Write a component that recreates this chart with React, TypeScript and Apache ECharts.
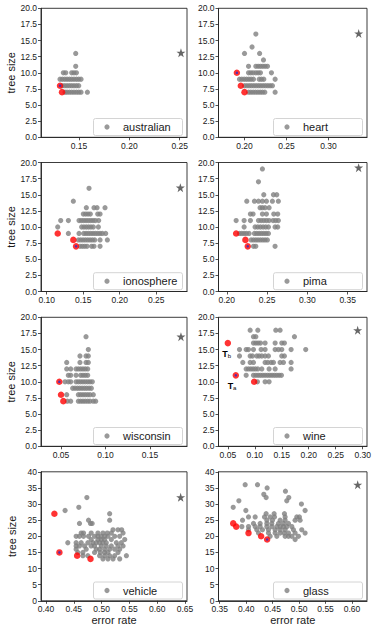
import React, { useEffect, useRef } from "react";
import * as echarts from "echarts";

type Rows = [number, number[]][];
type Pt = [number, number];

// ---------- data (error rate, tree size) ----------
const australianGray: Rows = [
  [13, [0.1467]],
  [11, [0.1467]],
  [10, [0.1344, 0.1368, 0.1427, 0.145, 0.1474]],
  [9, [0.1311, 0.1334, 0.1358, 0.1381, 0.1404, 0.1427, 0.145, 0.1474, 0.1497, 0.152]],
  [8, [0.1334, 0.1358, 0.1381, 0.1404, 0.1427, 0.145, 0.1474, 0.1497]],
  [7, [0.1361, 0.1381, 0.1404, 0.1427, 0.145, 0.1474, 0.1497, 0.152, 0.1583]],
];
const australianRed: Pt[] = [[0.1311, 8], [0.1331, 7]];
const australianBest: Pt[] = [[0.1311, 8]];
const australianStar: Pt[] = [[0.2513, 13.1]];
const australianXRange = [0.1122, 0.2573];
const australianXTicks = [0.15, 0.2, 0.25];

const heartGray: Rows = [
  [16, [0.2135]],
  [14, [0.209]],
  [13, [0.2, 0.218]],
  [12, [0.2226]],
  [11, [0.2048, 0.2135, 0.2163, 0.219, 0.2218, 0.2246, 0.2274]],
  [10, [0.2048, 0.2075, 0.2103, 0.2135, 0.2163, 0.219, 0.2321]],
  [9, [0.194, 0.1968, 0.1996, 0.2024, 0.2052, 0.2079, 0.2107, 0.2175, 0.2202, 0.223, 0.2365]],
  [8, [0.2, 0.2028, 0.2056, 0.2083, 0.2111, 0.2139, 0.2167, 0.2194, 0.2222, 0.225, 0.2278, 0.2306, 0.2333]],
  [7, [0.2048, 0.2075, 0.2103, 0.2131, 0.2159, 0.2187, 0.2214, 0.2242, 0.2365]],
];
const heartRed: Pt[] = [[0.1909, 10], [0.1956, 8], [0.2, 7]];
const heartBest: Pt[] = [[0.1909, 10]];
const heartStar: Pt[] = [[0.3361, 16.1]];
const heartXRange = [0.169, 0.346];
const heartXTicks = [0.2, 0.25, 0.3];

const ionosphereGray: Rows = [
  [16, [0.158]],
  [14, [0.1365]],
  [13, [0.1543, 0.1648, 0.169, 0.1799]],
  [12, [0.1502, 0.1534, 0.1566, 0.1598, 0.1699, 0.1731]],
  [11, [0.1192, 0.1297, 0.1443, 0.1475, 0.1507, 0.1539, 0.1571, 0.1603, 0.1635, 0.1667, 0.1712]],
  [10, [0.1151, 0.1479, 0.1511, 0.1543, 0.1575, 0.1607, 0.1639, 0.1708]],
  [9, [0.1297, 0.1443, 0.1507, 0.1539, 0.1571, 0.1603, 0.1635, 0.1667, 0.1699, 0.1731, 0.1763, 0.1808]],
  [8, [0.1434, 0.1466, 0.1498, 0.153, 0.1562, 0.1594, 0.1626, 0.1658, 0.1731, 0.1831]],
  [7, [0.1457, 0.1489, 0.1521, 0.1553, 0.1616, 0.1648, 0.1731]],
];
const ionosphereRed: Pt[] = [[0.1151, 9], [0.1365, 8], [0.1402, 7]];
const ionosphereBest: Pt[] = [[0.1402, 7]];
const ionosphereStar: Pt[] = [[0.2831, 16.1]];
const ionosphereXRange = [0.0922, 0.2922];
const ionosphereXTicks = [0.1, 0.15, 0.2, 0.25];

const pimaGray: Rows = [
  [19, [0.2442]],
  [17, [0.2393]],
  [15, [0.2459, 0.2579, 0.262]],
  [14, [0.2248, 0.2343, 0.2393, 0.2442, 0.2492, 0.2566, 0.264]],
  [13, [0.2413, 0.2442, 0.2475, 0.2525]],
  [12, [0.2293, 0.2326, 0.2442, 0.2492, 0.2583, 0.2632]],
  [11, [0.2116, 0.2215, 0.2293, 0.2393, 0.2426, 0.2459, 0.2492, 0.2525, 0.2574, 0.2607, 0.264]],
  [10, [0.2215, 0.2351, 0.2384, 0.2417, 0.245, 0.2483, 0.2517, 0.2599, 0.2632]],
  [9, [0.2157, 0.2186, 0.2215, 0.2244, 0.2277, 0.2343, 0.2372, 0.2401, 0.243, 0.2459, 0.2488, 0.2517]],
  [8, [0.2302, 0.2331, 0.236, 0.2388, 0.2417, 0.2446, 0.2475, 0.2504]],
  [7, [0.2331, 0.236, 0.2599]],
];
const pimaRed: Pt[] = [[0.2116, 9], [0.2231, 8], [0.226, 7]];
const pimaBest: Pt[] = [[0.226, 7]];
const pimaStar: Pt[] = [[0.3636, 19.2]];
const pimaXRange = [0.1897, 0.374];
const pimaXTicks = [0.2, 0.25, 0.3, 0.35];

const wisconsinGray: Rows = [
  [17, [0.0781]],
  [15, [0.0807]],
  [14, [0.0713, 0.0781, 0.0807]],
  [13, [0.0564, 0.0713, 0.0781, 0.0807]],
  [12, [0.0564, 0.0609, 0.0669, 0.0695, 0.0721, 0.0747, 0.0773, 0.08]],
  [11, [0.0582, 0.0609, 0.0669, 0.0721, 0.0747, 0.0773, 0.08]],
  [10, [0.0545, 0.0582, 0.0609, 0.0669, 0.0695, 0.0721, 0.0747, 0.0773, 0.08, 0.0826, 0.0852]],
  [9, [0.0631, 0.0657, 0.0684, 0.071, 0.0736, 0.0762, 0.0788, 0.0815, 0.0841]],
  [8, [0.0564, 0.0695, 0.0721, 0.0747, 0.0773, 0.08, 0.0826, 0.0863]],
  [7, [0.0571, 0.0609, 0.0695, 0.0721, 0.0747, 0.0773, 0.08, 0.0826, 0.0863, 0.089]],
];
const wisconsinRed: Pt[] = [[0.0481, 10], [0.05, 8], [0.0526, 7]];
const wisconsinBest: Pt[] = [[0.0481, 10]];
const wisconsinStar: Pt[] = [[0.1848, 17]];
const wisconsinXRange = [0.0275, 0.1916];
const wisconsinXTicks = [0.05, 0.1, 0.15];

const wineGray: Rows = [
  [18, [0.0914, 0.1056, 0.1389, 0.1469]],
  [17, [0.0975, 0.1019, 0.1735]],
  [16, [0.0975, 0.1019, 0.1062, 0.1105, 0.1191, 0.1377, 0.15, 0.1549]],
  [15, [0.0716, 0.084, 0.0883, 0.0975, 0.1117, 0.1191, 0.1377, 0.1438, 0.15, 0.1673, 0.1944]],
  [14, [0.0716, 0.0914, 0.0957, 0.1037, 0.108, 0.113, 0.1191, 0.1253, 0.15, 0.1549]],
  [13, [0.0778, 0.0914, 0.0975, 0.1191, 0.1241, 0.1302, 0.1346, 0.1469, 0.1531, 0.1673]],
  [12, [0.084, 0.0883, 0.0926, 0.0969, 0.1012, 0.1056, 0.113, 0.1265, 0.1377, 0.1673]],
  [11, [0.084, 0.0975, 0.1019, 0.1062, 0.1105, 0.1148, 0.1191, 0.1235, 0.1278, 0.1321, 0.1364, 0.1407, 0.1451, 0.1494]],
  [10, [0.1049, 0.1191, 0.1265]],
];
const wineRed: Pt[] = [[0.05, 16], [0.0648, 11], [0.0988, 10]];
const wineBest: Pt[] = [[0.0648, 11]];
const wineStar: Pt[] = [[0.2907, 18]];
const wineXRange = [0.0327, 0.308];
const wineXTicks = [0.05, 0.1, 0.15, 0.2, 0.25, 0.3];
const wineAnnotations: [number, number, string][] = [
  [0.048, 14.4, "b"],
  [0.0578, 9.5, "a"],
];

const vehicleGray: Rows = [
  [32, [0.4735]],
  [29, [0.459]],
  [28, [0.4343]],
  [27, [0.5145]],
  [25, [0.4765, 0.5145]],
  [24, [0.4602, 0.48, 0.483]],
  [22, [0.5205, 0.5295, 0.5361]],
  [21, [0.4633, 0.4675, 0.4813, 0.4934, 0.5024, 0.5102, 0.5175, 0.5386]],
  [20, [0.4542, 0.4602, 0.4675, 0.4765, 0.4873, 0.4934, 0.4994, 0.5054, 0.5114, 0.5235, 0.5325]],
  [19, [0.4813, 0.4934, 0.4994, 0.5054, 0.5175, 0.5416]],
  [18, [0.4392, 0.4542, 0.4633, 0.4753, 0.4843, 0.4904, 0.4964, 0.5024, 0.5084, 0.5265, 0.5355]],
  [17, [0.4542, 0.4602, 0.4693, 0.4813, 0.4873, 0.4994, 0.5084, 0.5175, 0.5295, 0.5386]],
  [16, [0.4542, 0.4723, 0.4904, 0.4964, 0.5054, 0.5145, 0.5235, 0.5325]],
  [15, [0.4572, 0.4663, 0.4873, 0.4976, 0.5054, 0.5114, 0.5295]],
  [14, [0.4663, 0.4753, 0.4964, 0.5054, 0.5145, 0.5235, 0.5446]],
  [13, [0.5024, 0.5114, 0.5205, 0.5325]],
];
const vehicleRed: Pt[] = [[0.4151, 27], [0.4241, 15], [0.456, 14], [0.48, 13]];
const vehicleBest: Pt[] = [[0.4241, 15]];
const vehicleStar: Pt[] = [[0.6422, 32.1]];
const vehicleXRange = [0.391, 0.6536];
const vehicleXTicks = [0.4, 0.45, 0.5, 0.55, 0.6, 0.65];

const glassGray: Rows = [
  [36, [0.3981, 0.4214]],
  [35, [0.4396]],
  [34, [0.4742]],
  [33, [0.4333]],
  [32, [0.4377, 0.4805]],
  [31, [0.3862, 0.4767]],
  [30, [0.5044]],
  [29, [0.3755]],
  [28, [0.3994, 0.5113]],
  [27, [0.4377, 0.4528, 0.4723]],
  [26, [0.4044, 0.417, 0.4346, 0.4453, 0.4535, 0.4736, 0.4956, 0.5006]],
  [25, [0.3931, 0.439, 0.4497, 0.4642, 0.4736, 0.4925, 0.5019]],
  [24, [0.4138, 0.4264, 0.439, 0.4484, 0.461, 0.4704, 0.4799]],
  [23, [0.3918, 0.4044, 0.417, 0.4264, 0.439, 0.4484, 0.4579, 0.4642, 0.4704, 0.4767, 0.4862]],
  [22, [0.4044, 0.4201, 0.4308, 0.4421, 0.4547, 0.4642, 0.4736, 0.4893, 0.505]],
  [21, [0.4233, 0.4421, 0.4547, 0.4642, 0.4717, 0.4799, 0.4925, 0.5113]],
  [20, [0.4453, 0.4579, 0.4736, 0.4799, 0.4862, 0.4987]],
  [19, [0.4925]],
];
const glassRed: Pt[] = [[0.3755, 24], [0.3811, 23], [0.4044, 21], [0.4283, 20], [0.4396, 19]];
const glassBest: Pt[] = [[0.4396, 19]];
const glassStar: Pt[] = [[0.6107, 36]];
const glassXRange = [0.3477, 0.6283];
const glassXTicks = [0.35, 0.4, 0.45, 0.5, 0.55, 0.6];

const smallYMax = 20;
const smallYStep = 2.5;
const largeYMax = 40;
const largeYStep = 5;

// ---------- panel table ----------
const panels = [
  { name: "australian", gray: australianGray, red: australianRed, best: australianBest, star: australianStar, xRange: australianXRange, xTicks: australianXTicks, yMax: smallYMax, yStep: smallYStep },
  { name: "heart", gray: heartGray, red: heartRed, best: heartBest, star: heartStar, xRange: heartXRange, xTicks: heartXTicks, yMax: smallYMax, yStep: smallYStep },
  { name: "ionosphere", gray: ionosphereGray, red: ionosphereRed, best: ionosphereBest, star: ionosphereStar, xRange: ionosphereXRange, xTicks: ionosphereXTicks, yMax: smallYMax, yStep: smallYStep },
  { name: "pima", gray: pimaGray, red: pimaRed, best: pimaBest, star: pimaStar, xRange: pimaXRange, xTicks: pimaXTicks, yMax: smallYMax, yStep: smallYStep },
  { name: "wisconsin", gray: wisconsinGray, red: wisconsinRed, best: wisconsinBest, star: wisconsinStar, xRange: wisconsinXRange, xTicks: wisconsinXTicks, yMax: smallYMax, yStep: smallYStep },
  { name: "wine", gray: wineGray, red: wineRed, best: wineBest, star: wineStar, xRange: wineXRange, xTicks: wineXTicks, yMax: smallYMax, yStep: smallYStep },
  { name: "vehicle", gray: vehicleGray, red: vehicleRed, best: vehicleBest, star: vehicleStar, xRange: vehicleXRange, xTicks: vehicleXTicks, yMax: largeYMax, yStep: largeYStep },
  { name: "glass", gray: glassGray, red: glassRed, best: glassBest, star: glassStar, xRange: glassXRange, xTicks: glassXTicks, yMax: largeYMax, yStep: largeYStep },
];

// ---------- layout ----------
const W = 374;
const H = 633;
const COL_LEFT = [41, 218.5];
const COL_W = [146, 148.5];
const ROW_TOP = [8.3, 162.5, 317.3, 471.8];
const ROW_H = 129;
const LEG_W = 89;
const LEG_H = 17;
const LEG_RIGHT_GAP = 4.5;
const LEG_BOTTOM_GAP = 1.8;
const LEG_MARKER_X = 13.5;
const LEG_MARKER_R = 2.6;
const FONT = "'Liberation Sans', Arial, Helvetica, sans-serif";
const AXIS_COLOR = "#262626";
const STAR_PATH =
  "path://M50,0 L61.8,35.3 L99,35.3 L69,57.1 L80.4,92.7 L50,70.6 L19.6,92.7 L31,57.1 L1,35.3 L38.2,35.3 Z";

function buildOption() {
  const grid: any[] = [];
  const xAxis: any[] = [];
  const yAxis: any[] = [];
  const series: any[] = [];
  const legend: any[] = [];
  const graphic: any[] = [];

  panels.forEach((p, i) => {
    const col = i % 2;
    const row = Math.floor(i / 2);
    const left = COL_LEFT[col];
    const top = ROW_TOP[row];
    const width = COL_W[col];
    grid.push({
      left,
      top,
      width,
      height: ROW_H,
      show: true,
      borderColor: AXIS_COLOR,
      borderWidth: 0.9,
      backgroundColor: "transparent",
    });
    xAxis.push({
      gridIndex: i,
      type: "value",
      min: p.xRange[0],
      max: p.xRange[1],
      splitLine: { show: false },
      axisLine: { show: true, onZero: false, lineStyle: { color: AXIS_COLOR, width: 0.9 } },
      axisTick: { show: true, length: 3, customValues: p.xTicks, lineStyle: { color: AXIS_COLOR, width: 0.8 } },
      axisLabel: {
        customValues: p.xTicks,
        formatter: (v: number) => v.toFixed(2),
        fontSize: 8.5,
        color: "#1a1a1a",
        margin: 4,
        fontFamily: FONT,
      },
      name: row === 3 ? "error rate" : "",
      nameLocation: "middle",
      nameGap: 14,
      nameTextStyle: { fontSize: 11, color: "#1a1a1a", fontFamily: FONT },
    });
    yAxis.push({
      gridIndex: i,
      type: "value",
      min: 0,
      max: p.yMax,
      interval: p.yStep,
      splitLine: { show: false },
      axisLine: { show: true, onZero: false, lineStyle: { color: AXIS_COLOR, width: 0.9 } },
      axisTick: { show: true, length: 3, lineStyle: { color: AXIS_COLOR, width: 0.8 } },
      axisLabel: {
        formatter: (v: number) => (p.yStep % 1 !== 0 ? v.toFixed(1) : String(v)),
        fontSize: 8.5,
        color: "#1a1a1a",
        margin: 4,
        fontFamily: FONT,
      },
      name: col === 0 ? "tree size" : "",
      nameLocation: "middle",
      nameGap: 24,
      nameRotate: 90,
      nameTextStyle: { fontSize: 11, color: "#1a1a1a", fontFamily: FONT },
    });

    const grayData: Pt[] = [];
    p.gray.forEach(([y, xs]) => xs.forEach((x) => grayData.push([x, y])));

    series.push({
      type: "scatter",
      name: p.name,
      xAxisIndex: i,
      yAxisIndex: i,
      data: grayData,
      symbol: "circle",
      symbolSize: 5.2,
      itemStyle: { color: "#808080" },
      silent: true,
      z: 2,
    });
    series.push({
      type: "scatter",
      name: p.name + "-selected",
      xAxisIndex: i,
      yAxisIndex: i,
      data: p.red,
      symbol: "circle",
      symbolSize: 6.5,
      itemStyle: { color: "#ff0000" },
      silent: true,
      z: 3,
    });
    series.push({
      type: "scatter",
      name: p.name + "-best",
      xAxisIndex: i,
      yAxisIndex: i,
      data: p.best,
      symbol: "circle",
      symbolSize: 2.5,
      itemStyle: { color: "#2a2ad0" },
      silent: true,
      z: 4,
    });
    series.push({
      type: "scatter",
      name: p.name + "-full",
      xAxisIndex: i,
      yAxisIndex: i,
      data: p.star,
      symbol: STAR_PATH,
      symbolSize: 9,
      itemStyle: { color: "#404040" },
      silent: true,
      z: 4,
    });
    if (p.name === "wine") {
      series.push({
        type: "scatter",
        name: "wine-annot",
        xAxisIndex: i,
        yAxisIndex: i,
        data: wineAnnotations.map(([x, y, s]) => ({ value: [x, y], name: s })),
        symbolSize: 1,
        itemStyle: { color: "rgba(0,0,0,0)" },
        silent: true,
        z: 5,
        label: {
          show: true,
          position: "inside",
          opacity: 1,
          formatter: (prm: any) => `{t|T}{s|${prm.name}}`,
          rich: {
            t: { fontSize: 9, fontWeight: "bold", color: "#000", fontFamily: FONT, lineHeight: 11, verticalAlign: "bottom" },
            s: { fontSize: 6, color: "#000", fontFamily: FONT, lineHeight: 6, verticalAlign: "bottom" },
          },
        },
      });
    }

    const boxRight = left + width - LEG_RIGHT_GAP;
    const boxBottom = top + ROW_H - LEG_BOTTOM_GAP;
    const boxLeft = boxRight - LEG_W;
    const boxTop = boxBottom - LEG_H;
    graphic.push({
      type: "rect",
      z: 10,
      shape: { x: boxLeft, y: boxTop, width: LEG_W, height: LEG_H, r: 2 },
      style: { fill: "#ffffff", stroke: "#d4d4d4", lineWidth: 1 },
      silent: true,
    });
    // legend content is positioned by its bounding box, which starts at the marker's left edge
    legend.push({
      data: [p.name],
      orient: "horizontal",
      left: boxLeft + LEG_MARKER_X - LEG_MARKER_R,
      top: boxTop + 3,
      icon: "circle",
      itemWidth: 22,
      itemHeight: LEG_MARKER_R * 2,
      itemGap: 0,
      padding: 0,
      z: 20,
      selectedMode: false,
      textStyle: { fontSize: 11, color: "#1a1a1a", fontFamily: FONT, lineHeight: 11 },
    });
  });

  return {
    animation: false,
    backgroundColor: "#ffffff",
    textStyle: { fontFamily: FONT },
    grid,
    xAxis,
    yAxis,
    series,
    legend,
    graphic,
  };
}

export default function App() {
  const ref = useRef<HTMLDivElement>(null);
  useEffect(() => {
    if (!ref.current) return;
    const chart = echarts.init(ref.current, null, { renderer: "svg" });
    chart.setOption(buildOption() as any);
    return () => chart.dispose();
  }, []);
  return (
    <div
      ref={ref}
      style={{ position: "fixed", left: 0, top: 0, width: W, height: H, background: "#fff" }}
    />
  );
}
